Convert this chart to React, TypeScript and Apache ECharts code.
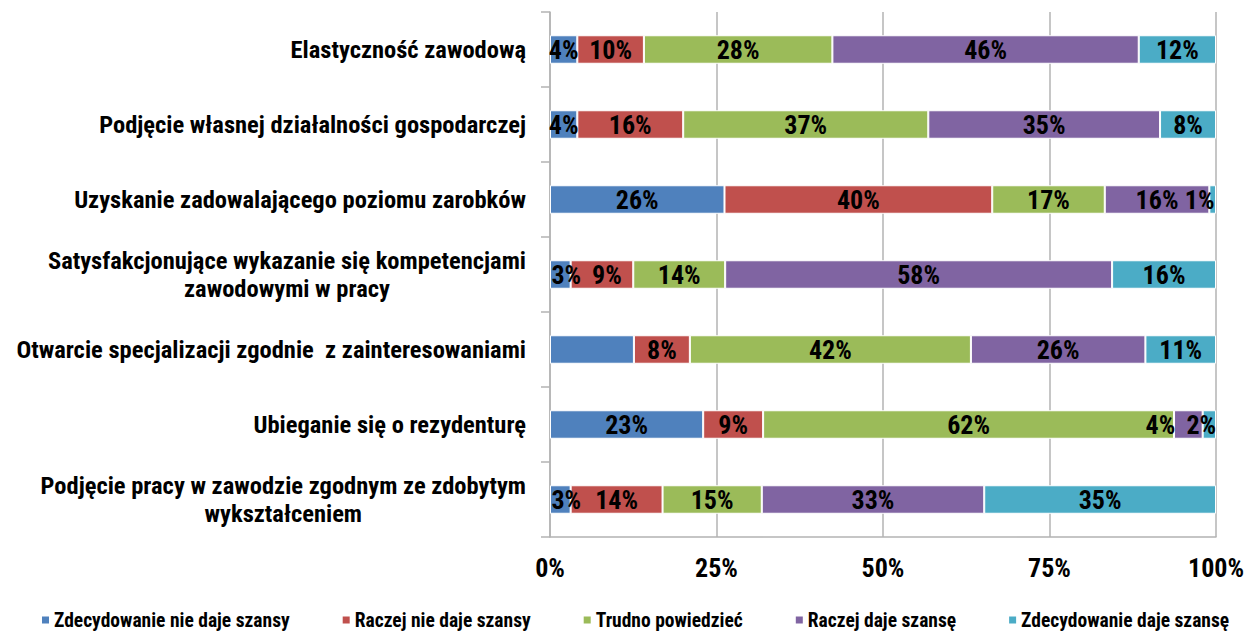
import React, { useEffect, useRef } from "react";
import * as echarts from "echarts";

const categories = [
  "Elastyczność zawodową",
  "Podjęcie własnej działalności gospodarczej",
  "Uzyskanie zadowalającego poziomu zarobków",
  "Satysfakcjonujące wykazanie się kompetencjami\nzawodowymi w pracy",
  "Otwarcie specjalizacji zgodnie  z zainteresowaniami",
  "Ubieganie się o rezydenturę",
  "Podjęcie pracy w zawodzie zgodnym ze zdobytym\nwykształceniem",
];

const seriesNames = [
  "Zdecydowanie nie daje szansy",
  "Raczej nie daje szansy",
  "Trudno powiedzieć",
  "Raczej daje szansę",
  "Zdecydowanie daje szansę",
];

const zdecydowanieNie = [4.1, 4.1, 26.2, 3.1, 12.6, 23.0, 3.1];
const raczejNie = [10.0, 15.9, 40.2, 9.4, 8.4, 9.0, 13.8];
const trudno = [28.3, 36.8, 16.9, 13.8, 42.2, 61.7, 14.9];
const raczejTak = [46.0, 34.8, 15.7, 58.1, 26.2, 4.3, 33.4];
const zdecydowanieTak = [11.6, 8.4, 1.0, 15.6, 10.6, 2.0, 34.8];

const xTicks = [0, 25, 50, 75, 100];

const colors = ["#4f81bd", "#c0504d", "#9bbb59", "#8064a2", "#4bacc6"];

// labels hidden in the original: [seriesIndex, categoryIndex]
const hiddenLabels = [[0, 4]];
// manual label shifts in the original: [seriesIndex, categoryIndex, dx]
const labelShifts = [
  [3, 5, -28],
  [4, 5, -8],
  [4, 2, -13],
  [0, 3, 6],
  [0, 6, 6],
  [1, 3, 5],
];

const FONT = "'Roboto Condensed', 'Liberation Sans', Arial, sans-serif";

export default function App() {
  const ref = useRef<HTMLDivElement>(null);
  useEffect(() => {
    if (!ref.current) return;
    const chart = echarts.init(ref.current, null, { renderer: "svg" });
    const allValues = [zdecydowanieNie, raczejNie, trudno, raczejTak, zdecydowanieTak];
    const series = allValues.map((vals, si) => ({
      name: seriesNames[si],
      type: "bar",
      stack: "total",
      barWidth: "38%",
      itemStyle: { color: colors[si], borderColor: "#ffffff", borderWidth: 1 },
      label: {
        show: true,
        position: "inside",
        color: "#000",
        fontFamily: FONT,
        fontWeight: "bold",
        fontSize: 26,
        formatter: (p: any) => Math.round(p.value) + "%",
      },
      labelLayout: (p: any) => {
        const sh = labelShifts.find(([s, c]) => s === si && c === p.dataIndex);
        return sh ? { dx: sh[2], hideOverlap: false } : { hideOverlap: false };
      },
      data: vals.map((v, ci) => {
        const item: any = { value: v };
        if (hiddenLabels.some(([s, c]) => s === si && c === ci)) item.label = { show: false };
        return item;
      }),
    }));
    chart.setOption({
      animation: false,
      backgroundColor: "#ffffff",
      textStyle: { fontFamily: FONT },
      grid: {
        left: 550,
        right: 31,
        top: 12,
        bottom: 95,
        containLabel: false,
        outerBoundsMode: "none",
      },
      legend: {
        data: seriesNames,
        left: 35,
        top: 605,
        icon: "rect",
        itemWidth: 9,
        itemHeight: 9,
        itemGap: 51,
        textStyle: { fontFamily: FONT, fontWeight: "bold", fontSize: 19.5, color: "#000", padding: [0, 0, 0, -1] },
      },
      xAxis: {
        type: "value",
        min: xTicks[0],
        max: xTicks[xTicks.length - 1],
        interval: 25,
        axisLine: { show: true, lineStyle: { color: "#b3b3b3", width: 1.5 } },
        axisTick: { show: false },
        splitLine: { show: true, lineStyle: { color: "#b3b3b3", width: 1.5 } },
        axisLabel: {
          formatter: "{value}%",
          color: "#000",
          fontFamily: FONT,
          fontWeight: "bold",
          fontSize: 26,
          margin: 18,
        },
      },
      yAxis: {
        type: "category",
        inverse: true,
        data: categories,
        axisLine: { show: true, lineStyle: { color: "#b3b3b3", width: 1.5 } },
        axisTick: { show: true, length: 9, lineStyle: { color: "#b3b3b3", width: 1.5 } },
        axisLabel: {
          margin: 24,
          color: "#000",
          fontFamily: FONT,
          fontWeight: "bold",
          fontSize: 24.5,
          lineHeight: 28,
          formatter: (v: string) =>
            v
              .split("\n")
              .map((l) => "{c|" + l + "}")
              .join("\n"),
          rich: {
            c: {
              align: "center",
              color: "#000",
              fontFamily: FONT,
              fontWeight: "bold",
              fontSize: 24.5,
              lineHeight: 28,
            },
          },
        },
      },
      series,
    });
    return () => chart.dispose();
  }, []);
  return (
    <div
      ref={ref}
      style={{ position: "absolute", left: 0, top: 0, width: 1247, height: 632 }}
    />
  );
}
